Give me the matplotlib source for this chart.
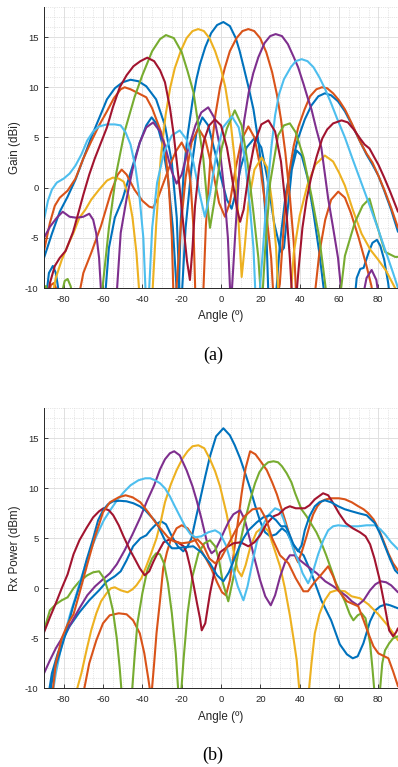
import matplotlib
matplotlib.use("Agg")
import matplotlib.pyplot as plt
from matplotlib.ticker import MultipleLocator
import numpy as np

plt.rcParams['axes.unicode_minus'] = False

# ---------------- (a) gain patterns, (angle deg, gain dBi) ----------------
gain_b_main = [(-21.7, -12), (-20.5, -3.5), (-19, 1.5), (-17, 5.2), (-14.5, 8.6), (-12.5, 10.8),
               (-10.7, 12.3), (-8, 14.0), (-5, 15.4), (-2, 16.2), (1.2, 16.5), (4.5, 16.1),
               (7.5, 14.9), (9.5, 13.6), (11.4, 12.1), (14, 10.0), (16.5, 7.8), (19, 4.6),
               (21.5, 0.5), (23, -4), (24.3, -12)]
gain_b_left = [(-90, -7.0), (-86, -4.6), (-82, -2.4), (-78, -0.9), (-74, 0.8), (-70, 2.9),
               (-66, 5.0), (-62, 6.9), (-58, 8.8), (-54, 9.9), (-50, 10.5), (-46, 10.75),
               (-42, 10.6), (-38, 10.1), (-33, 8.8), (-28.5, 6.2), (-25, 2.5), (-22.5, -3.0),
               (-20.8, -12)]
gain_b_edge = [(-89, -11), (-87.5, -8.5), (-85.5, -7.8), (-84, -8.5), (-82, -11)]
gain_b_side = [(-59, -11), (-57, -6), (-54, -3), (-50, -1.1), (-46, 1.5), (-41.3, 4.5),
               (-38, 6.2), (-35.3, 7.0), (-32.5, 6.3), (-30, 4.5), (-27, 1.0), (-24.5, -4),
               (-22.3, -11)]
gain_b_mid = [(-20, -11), (-18, -4), (-15, 2), (-12.5, 5.5), (-9.5, 7.0), (-6.5, 6.2), (-3, 3.5),
              (0, 1.0), (3, -1.2), (5.4, -2.1), (7.5, -0.5), (10, 2.0), (13, 4.0), (17.3, 5.0),
              (20.5, 4.0), (23.5, 1.0), (27, -3.5), (30.5, -6.4), (32, -6.0), (34, -2),
              (36, 1.8), (38.4, 3.7), (41, 3.2), (44, 1.0), (47, -2.5), (50, -6.5), (52.8, -11)]
gain_b_right = [(27.5, -12), (30, -5.5), (33, -0.5), (35.8, 2.2), (39, 4.8), (42.6, 6.8),
                (46, 8.2), (49.5, 9.1), (52.8, 9.4), (56, 9.2), (59.5, 8.6), (63, 7.6),
                (66.5, 6.3), (70.7, 4.6), (74, 3.3), (77, 2.3), (80, 1.2), (83, -0.3),
                (86.5, -2.2), (90, -4.4)]
gain_b_far = [(67.5, -12), (69, -9), (70.8, -8.1), (72.5, -8.0), (75, -6.5), (77, -5.5),
              (79.3, -5.2), (81, -5.8), (83, -7.2), (85, -9.5), (86.5, -12)]

gain_o_main = [(-9.5, -13), (-7.7, -3.8), (-5.3, 3.1), (-2.9, 7.2), (-0.5, 10.0), (1.9, 11.9),
               (4.5, 13.6), (7.9, 14.9), (10.9, 15.6), (13.9, 15.8), (16.9, 15.6), (19.9, 14.9),
               (23, 13.5), (26, 11.5), (28.5, 9.2), (30.5, 6.8), (32.7, 3.5), (35.1, -1.1),
               (37, -5.5), (38.5, -12)]
gain_o_left = [(-90, -6.3), (-87, -3.5), (-84.5, -1.8), (-82, -1.0), (-78, -0.3), (-74, 0.9),
               (-70, 2.9), (-66, 4.6), (-62, 6.2), (-58, 7.6), (-54.5, 8.9), (-51, 9.8),
               (-49, 10.0), (-46, 9.8), (-42, 9.4), (-38, 9.0), (-35, 7.9), (-32.5, 6.6),
               (-30, 5.3), (-28.5, 4.2), (-26.5, 0), (-25, -5), (-24, -12)]
gain_o_edge = [(-88, -11), (-86.5, -9.7), (-85, -9.5), (-83.5, -10.2), (-82.5, -12)]
gain_o_side = [(-72.5, -11), (-70, -8.5), (-66, -6.5), (-61, -3.8), (-56, -0.5), (-52.5, 1.3),
               (-50.5, 1.8), (-48, 1.3), (-44, -0.2), (-40, -1.3), (-36.5, -1.9), (-34.5, -2.0),
               (-32, -1.0), (-29, 0.6), (-26, 2.2), (-23, 3.6), (-20, 4.5), (-17.5, 3.5),
               (-15.5, 0.5), (-14, -4), (-13, -11)]
gain_o_mid = [(-23, -11), (-20.5, -4), (-18, 1), (-15, 4.5), (-11.5, 5.9), (-8, 4.8), (-4, 1.5),
              (-1, -1.5), (2, -2.9), (4.5, -1.5), (7.5, 2.0), (10.5, 4.8), (13.9, 6.1), (17, 5.0),
              (20, 2.0), (23, -2.5), (25.5, -7), (27, -12)]
gain_o_right = [(27.5, -12), (29.9, -9.6), (32.3, -2.7), (34.6, 1.4), (37, 4.2), (39.4, 6.1),
                (42.5, 7.8), (45.3, 9.1), (48.5, 9.8), (51.3, 10.0), (54, 9.9), (57, 9.4),
                (60, 8.7), (63, 7.8), (66.5, 6.4), (70.7, 4.6), (74, 3.4), (77, 2.5), (80, 1.2),
                (83, -0.2), (86.5, -2.0), (90, -4.0)]
gain_o_far = [(47.5, -11), (50, -6.5), (53, -3.2), (56, -1.2), (59.6, -0.4), (63, -1),
              (66, -2.5), (70, -5), (74, -7.8), (76.5, -9.8), (78, -12)]

gain_y_main = [(-35.3, -12), (-33, -3.8), (-30.6, 3.1), (-28.2, 7.2), (-25.8, 10.0),
               (-23.5, 11.9), (-20.5, 13.6), (-17.5, 14.9), (-14.5, 15.6), (-11.6, 15.8),
               (-8.7, 15.6), (-5.9, 14.9), (-3, 13.6), (-0.1, 11.9), (2.2, 10.0), (4.5, 7.2),
               (6.8, 3.1), (8.5, -2.0), (10.5, -8.9), (12, -6), (14, -1.5), (17, 1.8),
               (20.7, 3.0), (23.5, 2.0), (26, -1.5), (28, -6), (29.5, -12)]
gain_y_right = [(35, -12), (37, -6.5), (40, -2.8), (44, 0.3), (48, 2.3), (52.8, 3.2), (57, 2.6),
                (60, 1.5), (63, 0.2), (67, -2.2), (71.5, -4.6), (76, -6.2), (80, -7.2),
                (84, -8.3), (88.5, -10), (90, -10.8)]
gain_y_left = [(-87, -12), (-84, -9.0), (-81, -7.2), (-78, -5.8), (-75, -4.5), (-72, -3.0),
               (-69, -2.2), (-66, -1.2), (-62, -0.2), (-58, 0.7), (-55, 1.0), (-52, 0.9),
               (-49.5, 0.6), (-47, -0.8), (-45, -3), (-43, -6.5), (-41, -12)]

gain_p_main = [(5, -12), (7.3, -4.4), (9.6, 2.6), (11.8, 6.7), (14.1, 9.5), (16.4, 11.4),
               (19, 13.0), (22.1, 14.4), (25, 15.1), (27.8, 15.3), (31, 15.1), (34, 14.3),
               (37, 13.0), (39.2, 12.0), (42, 10.3), (44, 9.0), (46, 7.8), (48.5, 5.8),
               (51, 4.0), (54.5, -1.1), (57, -4), (59.5, -7), (62, -12)]
gain_p_mid = [(-53.5, -12), (-51, -4.5), (-48, -1.1), (-45, 1.8), (-41.3, 4.5), (-38, 6.0),
              (-34.5, 6.5), (-31, 5.6), (-28, 3.8), (-25, 1.6), (-22.6, 0.4), (-20, 1.3),
              (-17, 3.6), (-13, 6.2), (-10, 7.5), (-6.5, 8.0), (-3.5, 7.0), (-1, 4.5),
              (1.5, 0), (3.5, -5), (5, -12)]
gain_p_left = [(-90, -5.0), (-87, -3.9), (-83.5, -3.0), (-80.5, -2.4), (-77, -2.9),
               (-73.5, -3.0), (-70, -2.9), (-67, -2.6), (-65, -3.2), (-63.5, -4.5), (-62, -7),
               (-60.5, -12)]
gain_p_far = [(71, -12), (74, -9), (76.6, -8.2), (79, -9.2), (81, -12)]

gain_g_main = [(-60.8, -11), (-57, -4), (-53.2, 1.5), (-49, 5.6), (-44, 9.0), (-40, 11.2),
               (-35, 13.6), (-31, 14.8), (-28, 15.2), (-24, 14.9), (-20, 13.5), (-17, 11.6),
               (-14, 9.5), (-11.5, 6.2), (-9, 2.9), (-7, -1.5), (-5.6, -4.0), (-3.5, -1.5),
               (0.3, 3.9), (3, 5.9), (7, 7.7), (10.5, 6.2), (13.5, 2.5), (16.5, -2.5),
               (19, -7), (20.7, -12), (22.5, -6), (25, 0.5), (29, 5.2), (32, 6.2), (35, 6.4),
               (38, 5.5), (42, 3.0), (46, -0.8), (50, -5), (54.5, -12), (60.5, -11),
               (63, -6.8), (68, -3.5), (72, -1.8), (75.5, -1.1), (78.3, -3.1), (83.4, -6.4),
               (88.5, -6.9), (90, -6.9)]
gain_g_edge1 = [(-90.5, -11), (-89, -9.8), (-87.5, -11)]
gain_g_edge2 = [(-81.5, -11), (-79.5, -9.3), (-78, -9.1), (-76.5, -9.8), (-75, -11)]

gain_c_main = [(19, -12), (21.2, -6.5), (23.4, -0.5), (25.6, 4.0), (27.5, 7.2), (29.5, 9.3),
               (32, 10.8), (35.5, 12.0), (38, 12.6), (41, 12.8), (44, 12.6), (47, 12.0),
               (50, 11.0), (53, 9.8), (56, 8.4), (59, 6.9), (63, 5.0), (67, 2.8), (71.5, 0.4),
               (76, -2.0), (80, -4.2), (84, -6.5), (87.5, -8.5), (90, -10)]
gain_c_left = [(-90, -3.2), (-88, -1.3), (-86, -0.2), (-83.5, 0.5), (-80, 0.9), (-77, 1.4),
               (-74, 2.2), (-71, 3.3), (-68, 4.7), (-65, 5.6), (-62, 6.1), (-58, 6.3),
               (-54, 6.3), (-51, 6.2), (-48.5, 5.5), (-46, 4.3), (-43.5, 2.0), (-41.5, -0.8),
               (-39.5, -5), (-38, -12)]
gain_c_mid = [(-37, -12), (-35, -4), (-32.5, 0.5), (-29, 3.5), (-25, 5.2), (-21, 5.7),
              (-17.5, 4.8), (-14, 2.5), (-11, -0.5), (-8.2, -2.9), (-5.5, -0.5), (-2.5, 3.2),
              (1, 6.0), (5.5, 7.1), (9, 6.0), (12, 3.0), (14.5, -1.5), (16.5, -6), (17.8, -12)]

gain_r_main = [(-89, -12), (-87, -9.5), (-84.5, -7.8), (-82, -7.0), (-79, -6.3), (-75.2, -4.4),
               (-72.5, -2.5), (-70, -0.7), (-67, 1.3), (-64.2, 2.9), (-61, 4.5), (-58, 6.0),
               (-55, 8.0), (-51.5, 10.0), (-48, 11.2), (-44.5, 12.1), (-41, 12.6),
               (-37.5, 12.95), (-34, 12.6), (-31, 11.7), (-28.5, 10.5), (-26, 8.0),
               (-24, 5.2), (-22.5, 2.6), (-20.5, -1.0), (-19, -4), (-17.3, -7.3),
               (-15.8, -9.2), (-14.5, -6), (-13.2, -1.8), (-11, 2.2), (-8.5, 4.8), (-6, 6.2),
               (-3.1, 6.8), (0, 6.2), (3, 4.0), (6, 0.5), (8, -2), (9.7, -3.4), (11.5, -2.2),
               (14, 1.3), (17, 4.4), (20.5, 6.3), (24.1, 6.7), (27.5, 5.6), (30.5, 2.6),
               (33.4, -2.8), (35, -7), (36.5, -12)]
gain_r_right = [(37.8, -12), (39.5, -8), (41.4, -4.0), (43.5, -1.2), (45.6, 0.8), (48.5, 3.0),
                (51.5, 4.9), (54, 5.8), (57, 6.4), (61.3, 6.7), (64.5, 6.5), (67.5, 5.8),
                (70.7, 4.9), (73, 4.3), (75.5, 3.9), (78, 3.0), (80, 2.3), (83, 1.0),
                (86, -0.4), (90, -2.4)]

# ---------------- (b) received power, (angle deg, power dBm) ----------------
rx_b_main = [(-88, -11), (-86, -8.5), (-83, -6.5), (-80, -5.0), (-77, -3.8), (-72, -2.4),
             (-67, -1.2), (-62, -0.2), (-58, 0.7), (-54, 1.2), (-51, 1.7), (-48, 2.8),
             (-44.7, 4.2), (-41, 5.0), (-38, 5.3), (-35.5, 5.9), (-33, 6.4), (-30.5, 6.7),
             (-28, 6.4), (-25, 5.2), (-22, 4.2), (-19.2, 3.7), (-17, 4.2), (-15, 5.0),
             (-12.8, 7.0), (-10.7, 8.8), (-8, 11.2), (-5.6, 13.2), (-2.5, 15.2), (1.2, 16.0),
             (4.5, 15.3), (7, 14.3), (9.7, 13.0), (12.3, 11.5), (14.8, 10.0), (17.3, 8.3),
             (19.9, 6.7), (22.4, 5.6), (25, 5.2), (28, 5.4), (31, 6.0), (33.5, 5.6), (36, 4.6),
             (39, 3.8), (42, 3.3), (46, 1.5), (51, -1.2), (56, -3.2), (60.4, -5.6), (64, -6.6),
             (67, -7.0), (69.5, -6.8), (72.4, -5.5), (75.8, -3.3), (78.5, -2.2), (81, -1.8),
             (84, -1.6), (86, -1.7), (90, -2.0)]
rx_b_alt = [(-87.5, -11), (-85, -8.3), (-82, -6.5), (-78.5, -4.2), (-75.2, -1.8), (-71.5, 0.5),
            (-68.4, 2.8), (-65, 5.0), (-62.5, 6.8), (-60, 7.8), (-57.5, 8.4), (-54.9, 8.7),
            (-51.5, 8.75), (-48.1, 8.7), (-44.5, 8.5), (-41.3, 8.2), (-38.5, 7.8),
            (-36.2, 7.3), (-33.8, 6.8), (-31.9, 6.2), (-28.5, 4.8), (-25, 4.0), (-22.6, 4.0),
            (-19, 4.1), (-14.1, 4.2), (-10, 3.6), (-5.6, 2.5), (-2, 1.3), (1.2, 0.7), (4, 1.6),
            (6.5, 2.8), (9, 4.0), (11.4, 5.0), (14, 5.8), (18.2, 6.6), (21.5, 7.1), (25, 7.3),
            (28, 6.8), (30.5, 6.2), (33, 6.2), (35, 5.3), (37, 4.3), (39.2, 3.7), (41, 4.3),
            (42.6, 5.8), (45, 7.2), (47.7, 8.2), (50, 8.6), (52.8, 8.8), (56, 8.6),
            (59.6, 8.2), (63, 7.9), (66.4, 7.7), (70, 7.5), (74.1, 7.3), (78.3, 6.5),
            (81, 5.4), (83.4, 4.2), (86, 2.9), (88.5, 1.8), (90, 1.5)]

rx_o_main = [(-70.5, -11), (-67, -7.5), (-63.4, -5.2), (-60, -3.5), (-56.6, -2.7), (-52, -2.5),
             (-48, -2.6), (-44.7, -3.2), (-41.3, -4.5), (-39, -6.5), (-37, -9), (-35.5, -11),
             (-34, -7.5), (-32.8, -4.5), (-31, -1.2), (-29.4, 2.0), (-27.5, 3.6), (-25.5, 4.9),
             (-22.6, 6.0), (-20, 6.3), (-17, 6.0), (-14, 5.1), (-11, 4.1), (-8, 3.1), (-5, 2.0),
             (-2, 0.6), (0.5, -0.4), (2.5, -0.7), (4.5, 0.8), (6.5, 3.5), (8.5, 6.5),
             (10.5, 9.5), (12.5, 12.0), (14.8, 13.7), (17.5, 13.4), (20.5, 12.6), (23.3, 11.8),
             (26, 10.6), (28.4, 9.4), (30.5, 8.1), (32.6, 6.8), (34.7, 5.4), (36.7, 4.2),
             (38, 3.1), (39.2, 2.6), (41, 3.6), (43.5, 5.2), (45.5, 6.6), (46.9, 7.4),
             (49, 8.2), (51.1, 8.7), (53.5, 8.9), (56.2, 9.0), (60, 9.0), (63, 8.9),
             (66.5, 8.6), (69.8, 8.2), (72.5, 7.9), (74.9, 7.5), (77.5, 6.9), (80, 6.0),
             (82.5, 4.8), (85.1, 3.5), (87.5, 2.5), (90, 1.8)]
rx_o_alt = [(-86, -11), (-84, -7.5), (-81, -5.0), (-78, -3.6), (-75, -2.6), (-72, -0.5),
            (-68, 2.4), (-64, 5.2), (-60, 7.6), (-56.5, 8.6), (-52, 9.1), (-48.5, 9.3),
            (-45, 9.1), (-41, 8.6), (-37, 7.6), (-33, 6.5), (-30, 5.8), (-27, 5.1), (-24, 4.7),
            (-20, 4.5), (-16, 4.6), (-12, 4.9), (-9, 4.3), (-6, 3.0), (-3, 2.5), (0, 3.0),
            (4, 4.5), (8, 6.0), (12, 7.2), (16, 7.9), (19.9, 8.0), (23, 6.9), (26, 5.0),
            (30, 3.3), (34.3, 2.5), (38, 1.0), (41.9, -0.3), (44.2, -0.3), (47.5, 0.6),
            (51.1, 1.4), (54.5, 2.2), (57, 1.2), (59.6, -0.2), (64, -1.3), (69.8, -1.8),
            (72.5, -3.2), (74.9, -4.5), (77.5, -5.8), (80, -6.5), (85.1, -7.0), (87.5, -8.3),
            (90, -9.8)]

rx_y_main = [(-74.5, -11), (-71, -8.5), (-68.4, -6.2), (-66, -4.2), (-63.4, -2.5), (-61, -1.3),
             (-58.2, -0.5), (-56, 0.0), (-54, 0.1), (-51, -0.2), (-47.5, -0.4), (-45, -0.1),
             (-43, 0.3), (-40.5, 1.0), (-38, 2.2), (-35.5, 3.5), (-32.8, 5.0), (-30.5, 6.8),
             (-28.5, 8.6), (-25.5, 10.4), (-22.6, 11.8), (-19.5, 13.0), (-17, 13.7),
             (-14.5, 14.2), (-11.5, 14.3), (-8.5, 14.0), (-5.6, 12.9), (-3, 11.7), (-0.5, 10.2),
             (2.9, 7.4), (6.3, 3.8), (8.5, 1.8), (10.5, 1.2), (12.5, 2.3), (15, 4.2), (18, 5.6),
             (21.6, 6.2), (24.1, 5.7), (27, 4.0), (30, 2.2), (32.5, 0), (35.1, -2.8),
             (37, -5.2), (38.5, -7.2), (40.2, -11)]
rx_y_right = [(44.3, -11), (46, -7.5), (47.7, -4.5), (50, -2.6), (52.8, -1.2), (55.5, -0.4),
              (58.7, -0.2), (63, -0.3), (66.4, -0.8), (70.7, -1.0), (74.9, -1.6), (80, -2.6),
              (85.1, -3.8), (90, -5.2)]

rx_p_main = [(-90, -8.5), (-87, -7.2), (-84, -6.0), (-80, -4.7), (-76, -3.4), (-72, -2.0),
             (-68, -0.7), (-64, 0.2), (-60, 0.9), (-56.5, 1.5), (-53, 2.4), (-49, 3.8),
             (-45, 5.4), (-41, 7.1), (-37.7, 8.7), (-34, 10.3), (-31, 11.9), (-28.5, 12.9),
             (-26, 13.5), (-23.8, 13.7), (-21, 13.3), (-17.5, 11.8), (-14.5, 10.2),
             (-12.4, 8.8), (-10, 7.0), (-8.2, 5.5), (-6.5, 4.1), (-4.8, 3.5), (-3, 3.8),
             (-0.5, 4.8), (1.8, 5.8), (4, 6.7), (6.3, 7.4), (9.7, 7.8), (12, 6.9), (14.8, 4.8),
             (17, 3.0), (19.9, 0.8), (22.5, -0.8), (25.3, -1.7), (27.5, -0.7), (30.1, 1.2),
             (32.6, 2.6), (35, 3.3), (37.5, 3.3), (40.2, 2.8), (44, 2.2), (48.7, 1.5),
             (53, 0.7), (57.1, 0.2), (60.5, -0.3), (63.9, -0.8), (66.5, -1.3), (69.5, -1.7),
             (72.5, -1.2), (75.8, -0.2), (78.5, 0.4), (81.2, 0.7), (84, 0.6), (86.5, 0.3),
             (90, -0.4)]

rx_g_left = [(-90, -4.2), (-87, -2.2), (-84, -1.6), (-81, -1.2), (-78, -0.9), (-75, 0.0),
             (-72, 0.7), (-68, 1.3), (-65, 1.6), (-62, 1.7), (-59.5, 1.0), (-57, -0.5),
             (-55, -2.2), (-53, -5), (-51.5, -8), (-50.3, -11)]
rx_g_side = [(-45.5, -11), (-44, -7), (-42.5, -3.5), (-40, -0.5), (-37.5, 1.8), (-35, 3.0),
             (-33, 3.5), (-31, 3.4), (-29, 2.5), (-27, 0.5), (-25, -2.5), (-23, -6.5),
             (-21.5, -11)]
rx_g_main = [(-20.5, -11), (-19, -7), (-17, -2.5), (-14.5, 1.2), (-11.5, 3.5), (-8.5, 4.5),
             (-5.6, 4.8), (-3, 4.2), (-1, 2.8), (1, 0.5), (3.7, -1.3), (6, 0.8), (8, 2.8),
             (10, 4.8), (12.2, 6.8), (14.8, 8.8), (17.3, 10.5), (19.5, 11.6), (21.6, 12.2),
             (24, 12.6), (26.7, 12.7), (29, 12.6), (31, 12.2), (33.4, 11.5), (35.8, 10.6),
             (37.7, 9.5), (40.9, 7.9), (43.5, 7.2), (46, 6.4), (48.5, 5.6), (51.1, 4.5),
             (53.5, 3.3), (56.2, 1.8), (58.5, 0.5), (60.5, -0.3), (63, -1.3), (65.5, -2.6),
             (67.3, -3.2), (69.5, -2.7), (71.5, -2.5), (73.5, -3.0), (75.8, -5.5), (77, -8),
             (78.3, -11)]
rx_g_right = [(80.5, -11), (82, -7.5), (83.4, -6.2), (85.5, -5.5), (87.5, -5.0), (90, -4.8)]

rx_c_main = [(-86, -11), (-84, -8.5), (-81.7, -6.3), (-79, -4.2), (-76.6, -2.5), (-74, -0.9),
             (-71.6, 0.7), (-69, 2.3), (-66.4, 3.8), (-63, 5.4), (-59.6, 6.8), (-56, 7.9),
             (-52.9, 8.8), (-49.5, 9.6), (-46, 10.3), (-42, 10.8), (-38.5, 11.0), (-36, 11.0),
             (-33.5, 10.8), (-31, 10.5), (-28.5, 10.0), (-26, 9.2), (-23.5, 8.2), (-20.9, 7.2),
             (-18, 6.1), (-15.5, 5.4), (-13, 5.1), (-10, 5.2), (-6.5, 5.6), (-3, 5.8),
             (-0.5, 5.5), (2.5, 4.3), (5.5, 2.3), (8.5, 0.2), (11.4, -1.2), (13.5, 0.2),
             (16, 2.6), (18.2, 4.6), (21, 6.2), (24, 7.3), (27.5, 8.0), (30, 7.8), (32, 6.8),
             (34.5, 5.3), (37, 3.8), (39.2, 2.8), (41.5, 1.5), (44.3, 0.5), (46.5, 1.5),
             (49.4, 3.4), (52, 4.8), (54.5, 5.8), (57, 6.2), (59.6, 6.3), (64, 6.2),
             (69.8, 6.2), (74, 6.3), (78.3, 6.3), (81, 5.9), (83.4, 5.4), (86.5, 4.6),
             (90, 3.9)]

rx_r_main = [(-90, -4.4), (-87, -2.9), (-84, -1.5), (-81, 0.0), (-78, 1.4), (-75, 3.4),
             (-72, 4.8), (-68.5, 6.0), (-65, 7.1), (-62, 7.7), (-59.8, 8.0), (-57, 7.8),
             (-54.8, 7.3), (-52, 6.3), (-49.6, 5.2), (-46.5, 3.9), (-44, 3.0), (-41.3, 2.0),
             (-38.8, 1.3), (-36.5, 1.7), (-34.3, 2.7), (-32, 3.6), (-29.2, 4.6), (-26, 4.9),
             (-22, 4.6), (-19, 4.2), (-17.5, 3.6), (-15.8, 2.2), (-14.1, 0.5), (-12.2, -1.5),
             (-10.7, -3.0), (-9.8, -4.2), (-8, -3.5), (-5.6, -0.5), (-3, 2.0), (-0.5, 3.6),
             (2.9, 4.1), (6.3, 4.5), (10, 4.6), (13.9, 4.2), (17, 4.6), (19.9, 5.3), (23, 6.4),
             (26.7, 7.2), (29.3, 7.4), (32.6, 8.0), (35, 8.2), (38, 8.0), (42.6, 8.0),
             (45, 8.3), (47.7, 8.9), (51.9, 9.5), (54.5, 9.3), (57.1, 8.5), (60, 7.5),
             (63.5, 6.5), (67, 6.0), (70.7, 5.6), (73.5, 5.2), (75.8, 4.4), (78, 3.0),
             (80.5, 1.0), (83, -1.5), (85.5, -4.2), (87.5, -4.8), (89, -4.4), (90, -4.0)]

colors = {
    'blue': '#0072BD', 'orange': '#D95319', 'yellow': '#EDB120', 'purple': '#7E2F8E',
    'green': '#77AC30', 'cyan': '#4DBEEE', 'red': '#A2142F',
}

top_lines = [
    (gain_b_main, 'blue'), (gain_b_left, 'blue'), (gain_b_edge, 'blue'), (gain_b_side, 'blue'),
    (gain_b_mid, 'blue'), (gain_b_right, 'blue'), (gain_b_far, 'blue'),
    (gain_o_main, 'orange'), (gain_o_left, 'orange'), (gain_o_edge, 'orange'),
    (gain_o_side, 'orange'), (gain_o_mid, 'orange'), (gain_o_right, 'orange'),
    (gain_o_far, 'orange'),
    (gain_y_main, 'yellow'), (gain_y_right, 'yellow'), (gain_y_left, 'yellow'),
    (gain_p_main, 'purple'), (gain_p_mid, 'purple'), (gain_p_left, 'purple'),
    (gain_p_far, 'purple'),
    (gain_g_main, 'green'), (gain_g_edge1, 'green'), (gain_g_edge2, 'green'),
    (gain_c_main, 'cyan'), (gain_c_left, 'cyan'), (gain_c_mid, 'cyan'),
    (gain_r_main, 'red'), (gain_r_right, 'red'),
]
bottom_lines = [
    (rx_b_main, 'blue'), (rx_o_main, 'orange'), (rx_y_main, 'yellow'), (rx_y_right, 'yellow'),
    (rx_p_main, 'purple'), (rx_g_left, 'green'), (rx_g_side, 'green'), (rx_g_main, 'green'),
    (rx_g_right, 'green'), (rx_c_main, 'cyan'), (rx_r_main, 'red'),
    (rx_b_alt, 'blue'), (rx_o_alt, 'orange'),
]


def style_axes(ax, ylabel):
    ax.set_xlim(-90, 90)
    ax.set_ylim(-10, 18)
    ax.xaxis.set_major_locator(MultipleLocator(20))
    ax.xaxis.set_minor_locator(MultipleLocator(5))
    ax.yaxis.set_major_locator(MultipleLocator(5))
    ax.yaxis.set_minor_locator(MultipleLocator(1))
    ax.grid(which='major', color='#e0e0e0', linewidth=0.7)
    ax.grid(which='minor', color='#cfcfcf', linewidth=0.5, linestyle=':')
    ax.set_axisbelow(True)
    for side in ('top', 'right'):
        ax.spines[side].set_visible(False)
    for side in ('left', 'bottom'):
        ax.spines[side].set_color('#262626')
        ax.spines[side].set_linewidth(0.7)
    ax.tick_params(which='major', direction='in', length=3, width=0.6,
                   colors='#262626', labelsize=6.8)
    ax.tick_params(axis='x', which='major', pad=5)
    ax.tick_params(axis='y', which='major', pad=4)
    ax.tick_params(which='minor', length=0)
    ax.set_xlabel('Angle (º)', fontsize=8.4, color='#262626', va='center')
    ax.set_ylabel(ylabel, fontsize=8.4, color='#262626', va='center')
    ax.xaxis.set_label_coords(0.5, -0.101)
    ax.yaxis.set_label_coords(-0.082, 0.5)


plt.rcParams['font.family'] = ['Liberation Sans', 'DejaVu Sans']

fig = plt.figure(figsize=(3.98, 7.67), dpi=100)
ax1 = fig.add_axes([0.1106, 0.6245, 0.8894, 0.3664])
ax2 = fig.add_axes([0.1106, 0.1026, 0.8894, 0.3651])

for ax, lines, ylabel in ((ax1, top_lines, 'Gain (dBi)'),
                          (ax2, bottom_lines, 'Rx Power (dBm)')):
    style_axes(ax, ylabel)
    for trace, cname in lines:
        a, v = np.array(trace).T
        ax.plot(a, v, color=colors[cname], linewidth=1.5,
                solid_joinstyle='round', solid_capstyle='round')

fig.text(213 / 398, 1 - 355 / 767, '(a)', ha='center', va='center',
         fontsize=13, family=['Liberation Serif', 'DejaVu Serif'])
fig.text(213 / 398, 1 - 755 / 767, '(b)', ha='center', va='center',
         fontsize=13, family=['Liberation Serif', 'DejaVu Serif'])

fig.savefig('out.png', dpi=100)
